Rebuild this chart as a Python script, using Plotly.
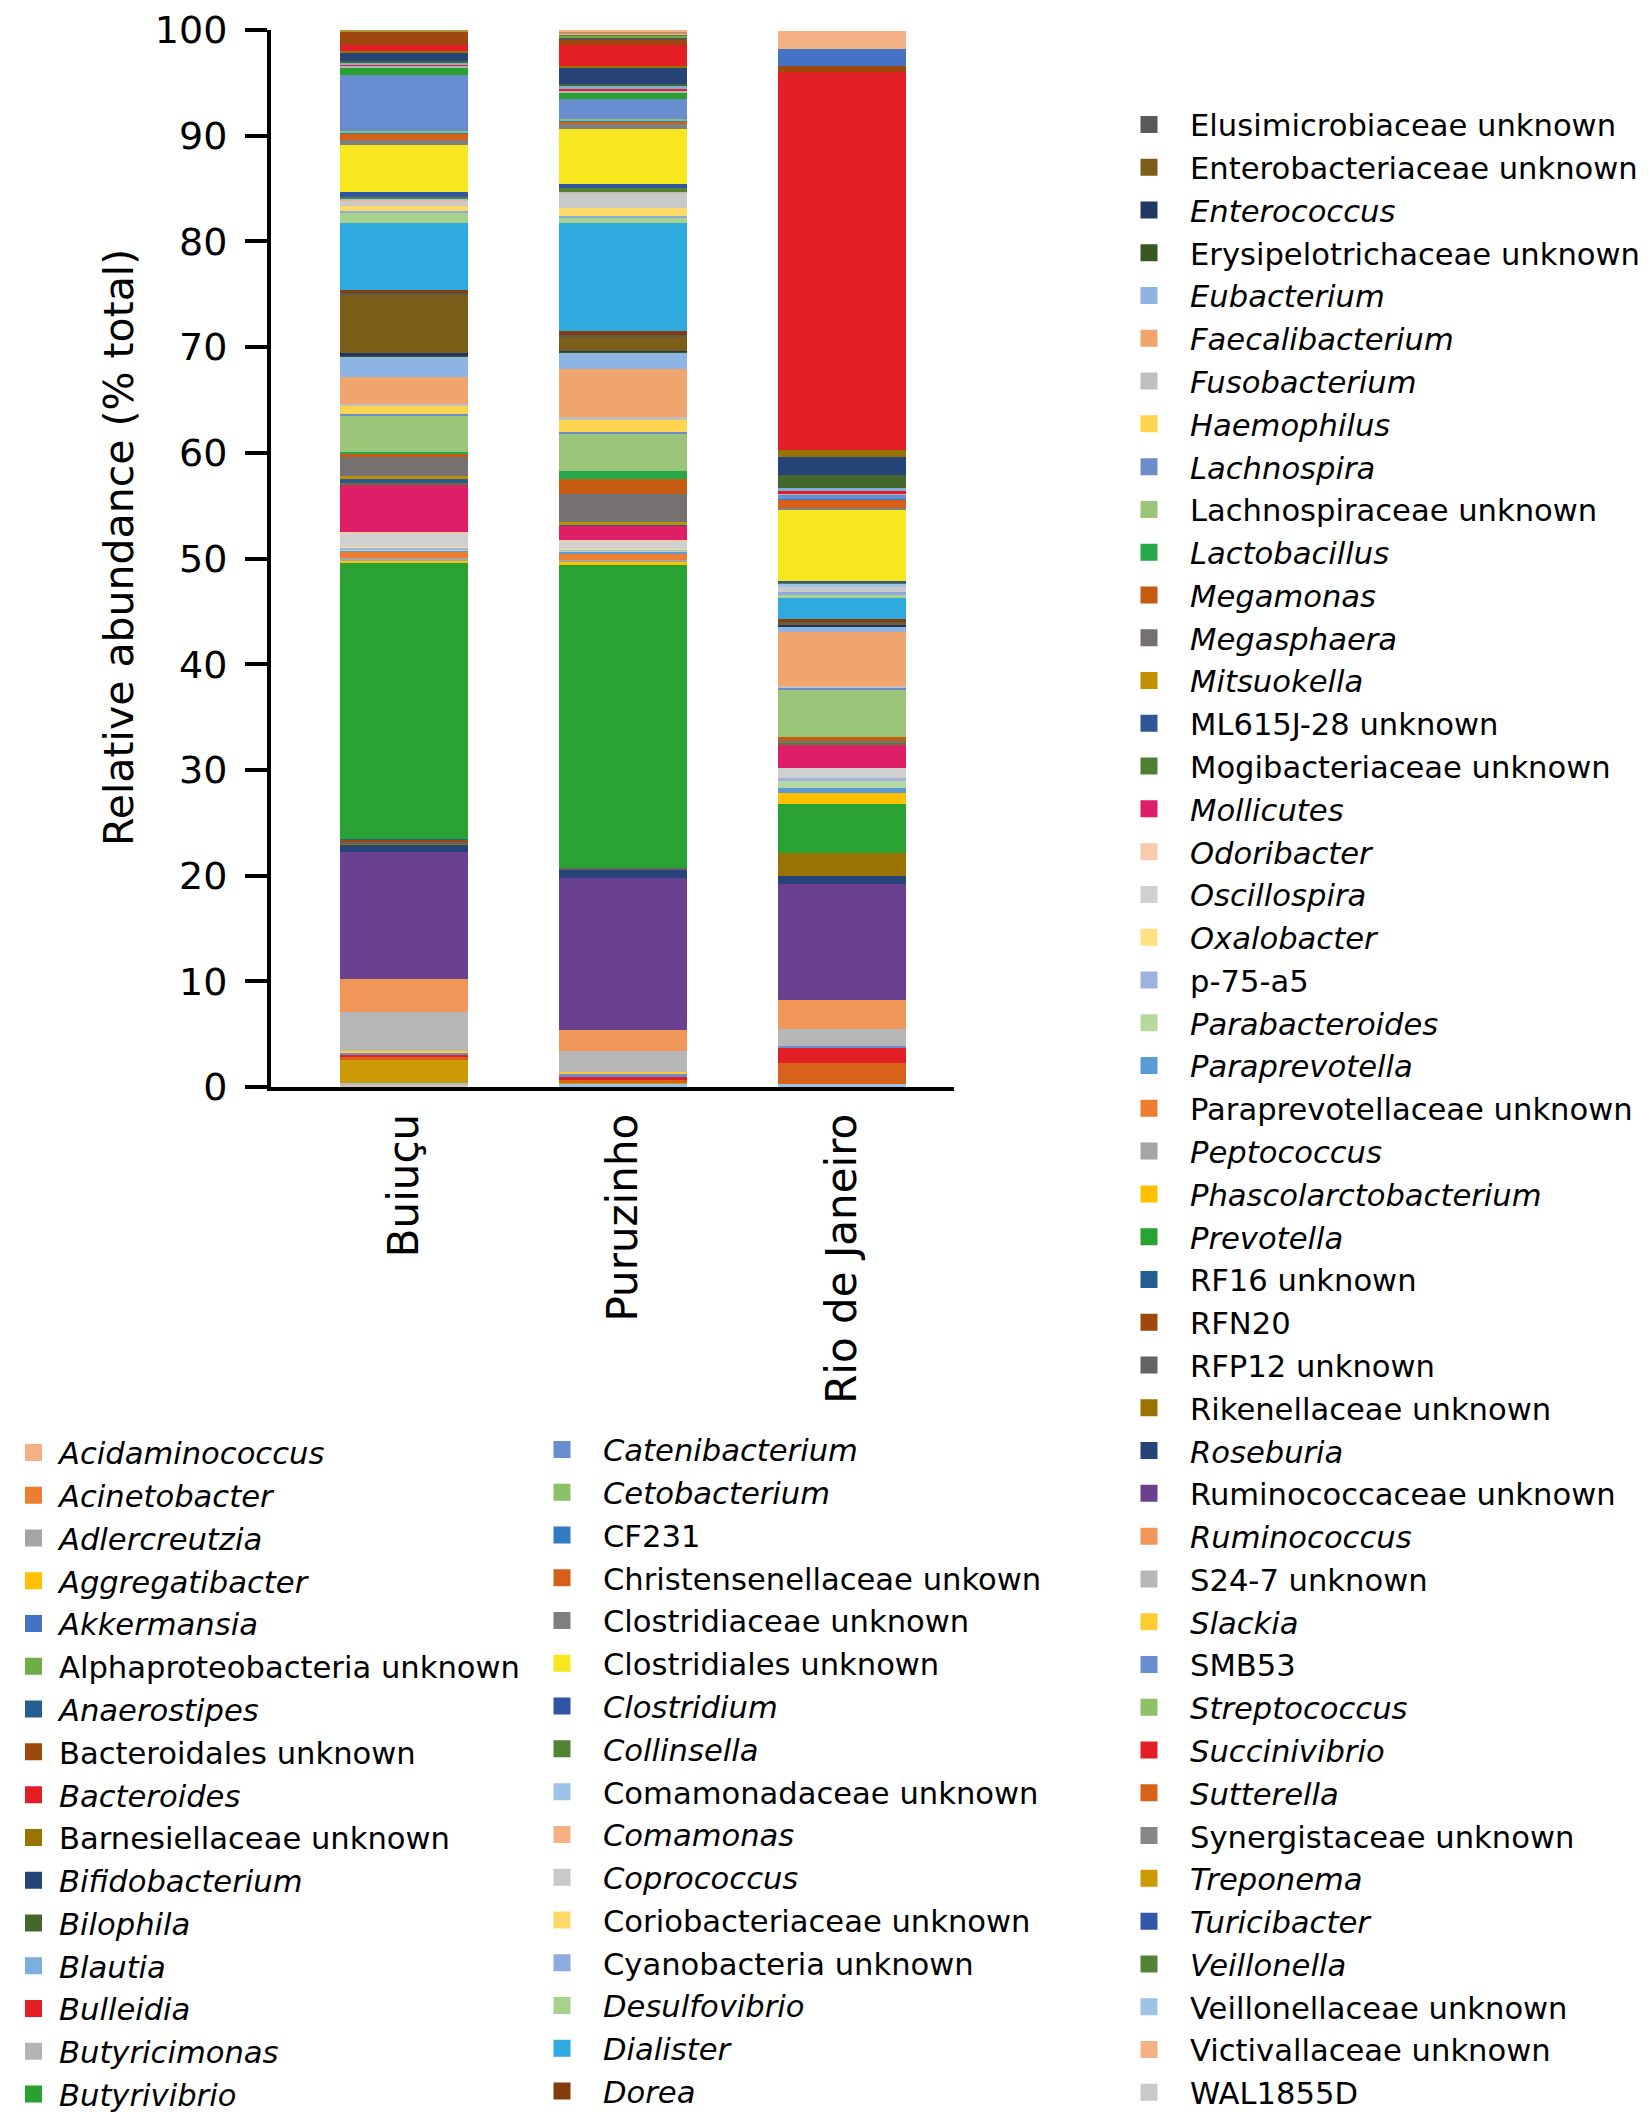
import plotly.graph_objects as go

# ---------------- data ----------------
sites = ["Buiuçu", "Puruzinho", "Rio de Janeiro"]

taxa = [
    "Acidaminococcus", "Acinetobacter", "Adlercreutzia", "Aggregatibacter", "Akkermansia",
    "Alphaproteobacteria unknown", "Anaerostipes", "Bacteroidales unknown", "Bacteroides",
    "Barnesiellaceae unknown", "Bifidobacterium", "Bilophila", "Blautia", "Bulleidia",
    "Butyricimonas", "Butyrivibrio",
    "Catenibacterium", "Cetobacterium", "CF231", "Christensenellaceae unkown",
    "Clostridiaceae unknown", "Clostridiales unknown", "Clostridium", "Collinsella",
    "Comamonadaceae unknown", "Comamonas", "Coprococcus", "Coriobacteriaceae unknown",
    "Cyanobacteria unknown", "Desulfovibrio", "Dialister", "Dorea",
    "Elusimicrobiaceae unknown", "Enterobacteriaceae unknown", "Enterococcus",
    "Erysipelotrichaceae unknown", "Eubacterium", "Faecalibacterium", "Fusobacterium",
    "Haemophilus", "Lachnospira", "Lachnospiraceae unknown", "Lactobacillus", "Megamonas",
    "Megasphaera", "Mitsuokella", "ML615J-28 unknown", "Mogibacteriaceae unknown",
    "Mollicutes", "Odoribacter", "Oscillospira", "Oxalobacter", "p-75-a5", "Parabacteroides",
    "Paraprevotella", "Paraprevotellaceae unknown", "Peptococcus", "Phascolarctobacterium",
    "Prevotella", "RF16 unknown", "RFN20", "RFP12 unknown", "Rikenellaceae unknown",
    "Roseburia", "Ruminococcaceae unknown", "Ruminococcus", "S24-7 unknown", "Slackia",
    "SMB53", "Streptococcus", "Succinivibrio", "Sutterella", "Synergistaceae unknown",
    "Treponema", "Turicibacter", "Veillonella", "Veillonellaceae unknown",
    "Victivallaceae unknown", "WAL1855D",
]

italic = [
    1, 1, 1, 1, 1, 0, 1, 0, 1, 0, 1, 1, 1, 1, 1, 1,
    1, 1, 0, 0, 0, 0, 1, 1, 0, 1, 1, 0, 0, 1, 1, 1,
    0, 0, 1, 0, 1, 1, 1, 1, 1, 0, 1, 1, 1, 1, 0, 0, 1, 1, 1, 1, 0, 1, 1, 0, 1, 1, 1,
    0, 0, 0, 0, 1, 0, 1, 0, 1, 0, 1, 1, 1, 0, 1, 1, 1, 0, 0, 0,
]

colors = [
    "#F4B183", "#ED7D31", "#A5A5A5", "#FFC000", "#4472C4", "#70AD47", "#255E91", "#9E480E",
    "#E31E24", "#997300", "#264478", "#43682B", "#7CAFDD", "#E31E24", "#B4B4B4", "#28A131",
    "#698ED0", "#8CC168", "#327AC2", "#D6601A", "#7F7F7F", "#F6E71F", "#2F55A4", "#548235",
    "#9DC3E6", "#F4B183", "#C9C9C9", "#FFD966", "#8FAADC", "#A9D18E", "#2EAADF", "#843C0C",
    "#595959", "#7B5E17", "#203864", "#385723", "#8DB4E2", "#F0A46E", "#BFBFBF", "#FFD44F",
    "#6E8CC8", "#9BC67A", "#27A74A", "#C55A11", "#767171", "#BF9000", "#2F5597", "#507E32",
    "#DF1E68", "#F8CBAD", "#D0D0D0", "#FFE083", "#9DB2DD", "#B8D8A2", "#5B9BD5", "#ED7D31",
    "#A5A5A5", "#FFC000", "#28A232", "#255E91", "#9E480E", "#636363", "#997300", "#264478",
    "#6A4190", "#F1975A", "#B7B7B7", "#FFCD33", "#698ED0", "#8CC168", "#E31E24", "#D8621A",
    "#878787", "#CC9A06", "#3358A8", "#548235", "#9DC3E6", "#F4B183", "#C9C9C9",
]

buiucu = [
    0.05, 0.1, 0.02, 0.02, 0.03, 0.05, 0.05, 1.2, 0.57, 0.2, 0.8, 0.2, 0.12, 0.12, 0.15, 0.7,
    5.3, 0.16, 0.12, 0.6, 0.45, 4.45, 0.5, 0.15, 0.08, 0.08, 0.55, 0.4, 0.25, 0.9, 6.37, 0.3,
    0.1, 5.6, 0.15, 0.15, 1.9, 2.55, 0.22, 0.72, 0.15, 3.5, 0.22, 0.25, 1.8, 0.3, 0.3, 0.25,
    4.4, 0.16, 1.26, 0.1, 0.15, 0.11, 0.11, 0.63, 0.22, 0.25, 26.05, 0.1, 0.2, 0.14, 0.1,
    0.7, 12.0, 3.16, 3.67, 0.23, 0.15, 0.0, 0.2, 0.3, 0.0, 2.2, 0.0, 0.0, 0.2, 0.05, 0.1,
]

puruzinho = [
    0.1, 0.2, 0.05, 0.05, 0.1, 0.15, 0.15, 0.63, 1.92, 0.2, 1.5, 0.2, 0.3, 0.2, 0.2, 0.57,
    1.86, 0.2, 0.05, 0.15, 0.53, 5.2, 0.38, 0.4, 0.07, 0.1, 1.4, 0.72, 0.15, 0.53, 10.17, 0.38,
    0.25, 1.26, 0.06, 0.1, 1.54, 4.6, 0.22, 1.2, 0.16, 3.5, 0.72, 1.48, 2.6, 0.28, 0.1, 0.0,
    1.32, 0.16, 0.72, 0.08, 0.08, 0.1, 0.25, 0.53, 0.22, 0.25, 28.65, 0.0, 0.0, 0.2, 0.0,
    0.72, 14.4, 1.98, 2.05, 0.16, 0.3, 0.0, 0.3, 0.18, 0.0, 0.2, 0.0, 0.0, 0.25, 0.0, 0.0,
]

rio = [
    1.72, 0.0, 0.0, 0.0, 1.57, 0.0, 0.0, 0.57, 35.8, 0.63, 1.73, 1.26, 0.3, 0.16, 0.16, 0.0,
    0.38, 0.0, 0.1, 0.72, 0.22, 6.76, 0.1, 0.15, 0.3, 0.0, 0.5, 0.0, 0.16, 0.38, 1.98, 0.25,
    0.1, 0.2, 0.16, 0.0, 0.47, 5.13, 0.22, 0.0, 0.16, 4.5, 0.0, 0.38, 0.1, 0.0, 0.0, 0.2,
    2.2, 0.0, 1.0, 0.0, 0.16, 0.79, 0.41, 0.0, 0.0, 1.1, 4.56, 0.0, 0.0, 0.0, 2.2,
    0.79, 11.0, 2.74, 1.6, 0.0, 0.2, 0.0, 1.42, 1.98, 0.0, 0.0, 0.0, 0.0, 0.25, 0.0, 0.0,
]

y_ticks = [0, 10, 20, 30, 40, 50, 60, 70, 80, 90, 100]
y_title = "Relative abundance (% total)"

# legend column split (number of entries in first two columns)
col1_n = 16
col2_n = 16

FONT = "DejaVu Sans, Liberation Sans, Arial, sans-serif"

fig = go.Figure()


def legend_for(i):
    if i < col1_n:
        return "legend"
    if i < col1_n + col2_n:
        return "legend2"
    return "legend3"


# stacked segments: traces added bottom -> top (reverse alphabetical), A on top
for i in reversed(range(len(taxa))):
    fig.add_trace(go.Bar(
        x=sites,
        y=[buiucu[i], puruzinho[i], rio[i]],
        name=taxa[i],
        marker=dict(color=colors[i], line=dict(width=0)),
        showlegend=False,
        hovertemplate="%{x}<br>" + taxa[i] + ": %{y}<extra></extra>",
    ))

# legend entries (no drawn bars; they only carry the larger legend swatch)
for i in reversed(range(len(taxa))):
    label = f"<i>{taxa[i]}</i>" if italic[i] else taxa[i]
    fig.add_trace(go.Bar(
        x=[None],
        y=[None],
        name=label,
        marker=dict(color=colors[i], line=dict(width=5, color=colors[i])),
        legend=legend_for(i),
        showlegend=True,
        hoverinfo="skip",
    ))

legend_common = dict(
    font=dict(family=FONT, size=30.6, color="black"),
    traceorder="reversed",
    bgcolor="rgba(0,0,0,0)",
    borderwidth=0,
    xref="container",
    yref="container",
    xanchor="left",
    yanchor="top",
    orientation="v",
    maxheight=2100,
)

L, R, T, B = 263, 704, 22, 1044
W, H = 1650, 2123
plot_w = W - L - R

fig.update_layout(
    width=W,
    height=H,
    barmode="stack",
    bargap=0.413,
    paper_bgcolor="white",
    plot_bgcolor="white",
    font=dict(family=FONT, color="black"),
    margin=dict(l=L, r=R, t=T, b=B, autoexpand=False),
    xaxis=dict(
        range=[-0.607, 2.511],
        showline=True, linecolor="black", linewidth=4,
        ticks="", showgrid=False, zeroline=False,
        tickangle=-90,
        tickfont=dict(family=FONT, size=42, color="black"),
        ticklabelstandoff=6,
        fixedrange=True,
    ),
    yaxis=dict(
        range=[0, 100],
        tickvals=y_ticks,
        showline=True, linecolor="black", linewidth=4,
        ticks="outside", ticklen=22, tickwidth=4, tickcolor="black",
        showgrid=False, zeroline=False,
        tickfont=dict(family=FONT, size=38, color="black"),
        ticklabelstandoff=10,
        ticklabeloverflow="allow",
    ),
    annotations=[dict(
        text=y_title,
        xref="paper", yref="paper",
        x=(111 - L) / plot_w, y=0.51,
        xanchor="center", yanchor="middle",
        textangle=-90,
        showarrow=False,
        font=dict(family=FONT, size=41, color="black"),
    )],
    legend=dict(legend_common, x=0.0, y=1 - 1418 / H, itemwidth=41),
    legend2=dict(legend_common, x=513 / W, y=1 - 1415 / H, itemwidth=72),
    legend3=dict(legend_common, x=1100 / W, y=1 - 90 / H, itemwidth=72),
    showlegend=True,
)

fig.write_html("out.html")
